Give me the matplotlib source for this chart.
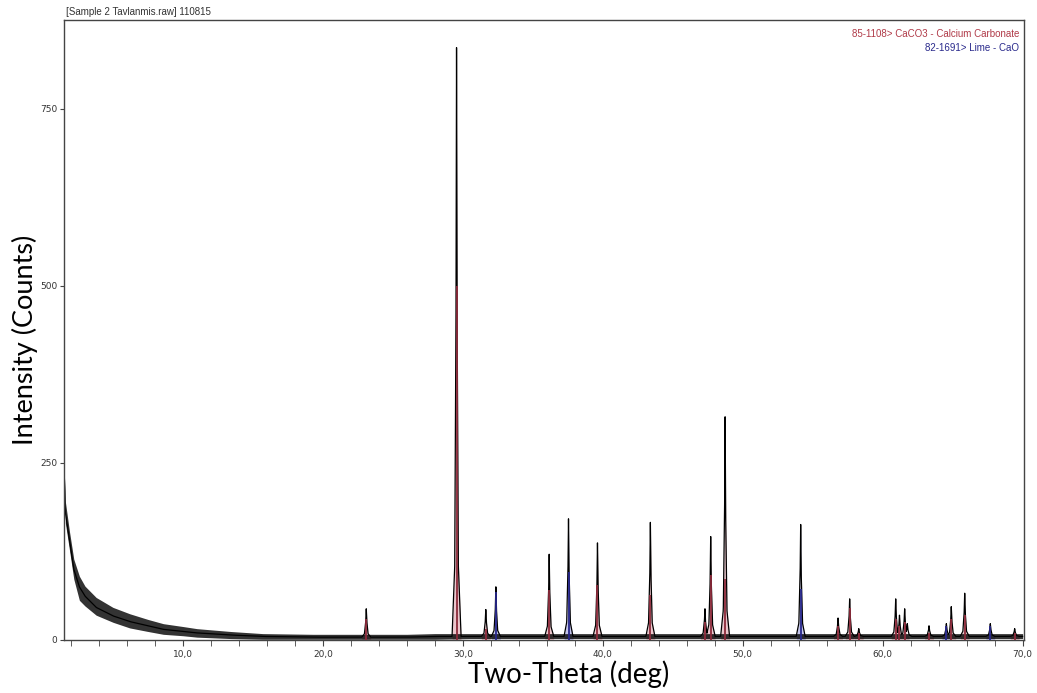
import numpy as np
import matplotlib
matplotlib.use("Agg")
import matplotlib.pyplot as plt
from matplotlib.ticker import MultipleLocator, FuncFormatter

# background (2-theta, counts): middle of the noise and its band
bg_x = [1.5, 1.6, 1.9, 2.2, 2.6, 3.0, 3.8, 5.0, 6.2, 7.5, 8.6, 10.0, 11.0, 13.4, 15.7,
        19.3, 22.0, 26.0, 28.0, 30.5, 34.0, 41.0, 45.0, 50.0, 55.0, 59.0, 62.5, 66.5, 70.0]
bg_mid = [245, 180, 140, 100, 75, 62, 46, 34, 26, 20, 15, 12, 10, 7, 5,
          4, 4, 4, 5, 5, 5, 5, 5, 5, 5, 5, 5, 5, 5]
bg_hi = [250, 195, 152, 114, 90, 76, 60, 46, 37, 29, 23, 19, 16, 12, 9,
         8, 8, 8, 9, 9, 9, 9, 9, 9, 9, 9, 9, 9, 9]
bg_lo = [238, 165, 126, 86, 56, 48, 35, 25, 17, 12, 8, 6, 4, 2, 1,
         1, 1, 1, 1, 2, 2, 2, 2, 2, 2, 2, 2, 2, 2]

# measured peaks: position (deg) and top (counts)
peak_pos = [23.1, 29.55, 31.64, 32.36, 36.17, 37.55, 39.62, 43.4, 47.3, 47.71, 48.74,
            54.14, 56.81, 57.64, 58.29, 60.93, 61.2, 61.57, 61.76, 63.31, 64.55, 64.9,
            65.86, 67.69, 69.43]
peak_top = [44, 836, 43, 75, 121, 171, 137, 166, 44, 146, 315,
            163, 31, 58, 16, 58, 35, 44, 23, 20, 23, 47,
            66, 23, 16]

# reference patterns (sticks)
caco3_pos = [23.1, 29.55, 31.64, 36.17, 39.62, 43.4, 47.3, 47.71, 48.74, 56.81, 57.64,
             58.29, 60.93, 61.2, 61.57, 63.31, 64.9, 65.86, 69.43]
caco3_ref = [30, 500, 15, 71, 78, 63, 25, 92, 86, 20, 45,
             10, 30, 20, 25, 10, 30, 35, 10]
cao_pos = [32.36, 37.55, 54.14, 64.55, 67.69]
cao_ref = [68, 96, 72, 20, 20]

# peak template
shape_dx = [-0.32, -0.13, -0.04, 0.0, 0.04, 0.13, 0.32]
shape_fr = [0.0, 0.12, 0.55, 1.0, 0.55, 0.12, 0.0]

x = np.sort(np.concatenate([np.linspace(1.5, 70.0, 6000), peak_pos]))
base = np.interp(x, bg_x, bg_mid)


def peak_profile(p, top):
    fr = np.interp(x - p, shape_dx, shape_fr, left=0, right=0)
    return fr * (top - np.interp(p, bg_x, bg_mid))


y = base.copy()
for p, t in zip(peak_pos, peak_top):
    y = np.maximum(y, base + peak_profile(p, t))

fig = plt.figure(figsize=(10.37, 6.93), dpi=100)
ax = fig.add_axes([0.0617, 0.0765, 0.9258, 0.8946])

# reference fills and sticks
for pos_list, ref_list, fill_c, stick_c in [(caco3_pos, caco3_ref, "#ebc6cc", "#8c2a3a"),
                                            (cao_pos, cao_ref, "#c3c4ec", "#26268a")]:
    for p, r in zip(pos_list, ref_list):
        t = peak_top[peak_pos.index(p)]
        prof = base + peak_profile(p, t)
        m = np.abs(x - p) < 0.32
        ax.fill_between(x[m], 0, prof[m], color=fill_c, lw=0, zorder=1)
        ax.vlines(p, 0, r, color=stick_c, lw=1.3, zorder=3)

ax.fill_between(bg_x, bg_lo, bg_hi, color="black", lw=0, alpha=0.8, zorder=2)
ax.plot(x, y, color="black", lw=0.9, zorder=2)

ax.set_xlim(1.5, 70.1)
ax.set_ylim(0, 875)
ax.xaxis.set_major_locator(MultipleLocator(10))
ax.xaxis.set_minor_locator(MultipleLocator(2))
ax.xaxis.set_major_formatter(FuncFormatter(lambda v, _: f"{v:.1f}".replace(".", ",")))
ax.set_yticks([0, 250, 500, 750])
ax.tick_params(axis="both", which="both", direction="out", labelsize=6.5,
               labelcolor="#333333", color="#444444")
ax.tick_params(axis="x", which="major", length=4)
ax.tick_params(axis="x", which="minor", length=4)
ax.tick_params(axis="y", length=3, pad=2)
for s in ax.spines.values():
    s.set_color("#444444")
    s.set_linewidth(1.0)

fig.text(0.0636, 0.976, "[Sample 2 Tavlanmis.raw] 110815", fontsize=7,
         family="Liberation Sans", color="#333333", va="bottom")
ax.text(0.995, 0.985, "85-1108> CaCO3 - Calcium Carbonate", transform=ax.transAxes,
        ha="right", va="top", fontsize=7, family="Liberation Sans", color="#b03a48")
ax.text(0.995, 0.963, "82-1691> Lime - CaO", transform=ax.transAxes,
        ha="right", va="top", fontsize=7, family="Liberation Sans", color="#2a2a8c")

fig.text(0.024, 0.51, "Intensity (Counts)", rotation=90, fontsize=19.5, family="Lato",
         ha="center", va="center")
fig.text(0.548, 0.027, "Two-Theta (deg)", fontsize=20, family="Lato",
         ha="center", va="center")

fig.savefig("out.png", dpi=100)
